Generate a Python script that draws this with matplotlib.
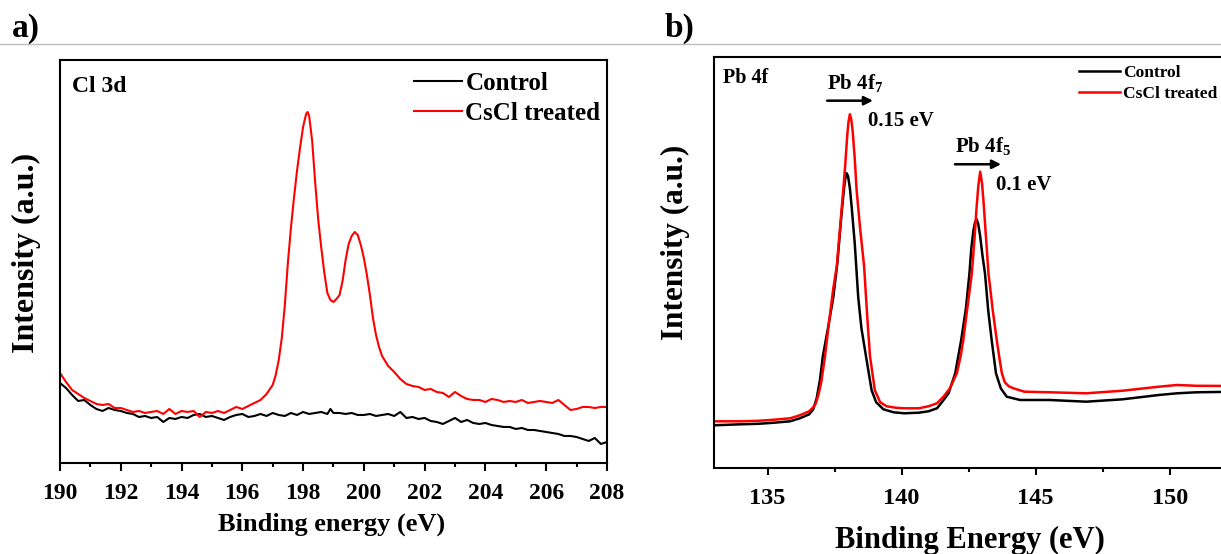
import matplotlib
matplotlib.use("Agg")
import matplotlib.pyplot as plt
from matplotlib.lines import Line2D
from matplotlib.ticker import MultipleLocator, NullLocator

plt.rcParams['font.family'] = ['Liberation Serif', 'DejaVu Serif']
plt.rcParams['font.weight'] = 'bold'
plt.rcParams['mathtext.fontset'] = 'custom'
plt.rcParams['mathtext.rm'] = 'Liberation Serif:bold'
plt.rcParams['mathtext.bf'] = 'Liberation Serif:bold'
plt.rcParams['mathtext.it'] = 'Liberation Serif:bold'

# ---- Cl 3d spectra (a.u.) ----
cl_be = [190.0, 190.2, 190.4, 190.6, 190.8, 191.0, 191.2, 191.4, 191.6, 191.8,
         192.0, 192.2, 192.4, 192.6, 192.8, 193.0, 193.2, 193.4, 193.6, 193.8,
         194.0, 194.2, 194.4, 194.6, 194.8, 195.0, 195.2, 195.4, 195.6, 195.8,
         196.0, 196.2, 196.4, 196.6, 196.8, 197.0, 197.1, 197.2, 197.3, 197.4,
         197.5, 197.6, 197.7, 197.8, 197.9, 198.0, 198.1, 198.15, 198.2, 198.3,
         198.4, 198.5, 198.6, 198.7, 198.8, 198.9, 199.0, 199.1, 199.2, 199.3,
         199.4, 199.5, 199.6, 199.7, 199.8, 199.9, 200.0, 200.1, 200.2, 200.3,
         200.4, 200.5, 200.6, 200.8, 201.0, 201.2, 201.4, 201.6, 201.8, 202.0,
         202.2, 202.4, 202.6, 202.8, 203.0, 203.2, 203.4, 203.6, 203.8, 204.0,
         204.2, 204.4, 204.6, 204.8, 205.0, 205.2, 205.4, 205.6, 205.8, 206.0,
         206.2, 206.4, 206.6, 206.8, 207.0, 207.2, 207.4, 207.6, 207.8, 208.0]
cl_cscl = [90, 81, 73, 69, 65, 62, 59, 58, 59, 55,
           55, 53, 51, 52, 50, 51, 52, 49, 54, 49,
           52, 51, 52, 46, 51, 50, 52, 50, 53, 56,
           54, 57, 60, 63, 69, 78, 88, 103, 125, 158,
           200, 235, 265, 292, 315, 336, 349, 351, 347, 322,
           280, 243, 215, 190, 170, 163, 161, 164, 168, 182,
           203, 219, 227, 231, 228, 218, 205, 188, 168, 145,
           128, 116, 107, 97, 91, 84, 79, 77, 76, 73,
           74, 71, 70, 66, 71, 67, 64, 63, 63, 61,
           64, 63, 61, 62, 61, 63, 60, 61, 62, 61,
           60, 63, 58, 53, 54, 56, 56, 55, 56, 56]

cl_ctrl_be = [190.0, 190.2, 190.4, 190.6, 190.8, 191.0, 191.2, 191.4, 191.6, 191.8,
              192.0, 192.2, 192.4, 192.6, 192.8, 193.0, 193.2, 193.4, 193.6, 193.8,
              194.0, 194.2, 194.4, 194.6, 194.8, 195.0, 195.2, 195.4, 195.6, 195.8,
              196.0, 196.2, 196.4, 196.6, 196.8, 197.0, 197.2, 197.4, 197.6, 197.8,
              198.0, 198.2, 198.4, 198.6, 198.8, 198.9, 199.0, 199.2, 199.4, 199.6,
              199.8, 200.0, 200.2, 200.4, 200.6, 200.8, 201.0, 201.2, 201.4, 201.6,
              201.8, 202.0, 202.2, 202.4, 202.6, 202.8, 203.0, 203.2, 203.4, 203.6,
              203.8, 204.0, 204.2, 204.4, 204.6, 204.8, 205.0, 205.2, 205.4, 205.6,
              205.8, 206.0, 206.2, 206.4, 206.6, 206.8, 207.0, 207.2, 207.4, 207.6,
              207.8, 208.0]
cl_ctrl = [80, 75, 68, 62, 63, 58, 54, 52, 55, 53,
           52, 50, 49, 46, 47, 45, 46, 41, 45, 44,
           46, 45, 48, 49, 46, 47, 45, 43, 46, 48,
           49, 46, 47, 49, 47, 50, 48, 47, 50, 48,
           51, 49, 50, 51, 49, 54, 50, 50, 49, 50,
           48, 48, 49, 47, 48, 49, 47, 51, 45, 46,
           44, 45, 42, 41, 39, 42, 45, 41, 43, 40,
           39, 40, 38, 37, 36, 36, 34, 35, 33, 33,
           32, 31, 30, 29, 27, 27, 26, 24, 22, 25,
           19, 21]

# ---- Pb 4f spectra (a.u.) ----
pb_cscl_be = [133.0, 133.5, 134.0, 134.65, 135.2, 135.84, 136.2, 136.55, 136.7, 136.8,
              136.9, 137.0, 137.14, 137.3, 137.45, 137.58, 137.7, 137.82, 137.9, 137.97,
              138.02, 138.07, 138.12, 138.17, 138.25, 138.32, 138.45, 138.6, 138.72, 138.82,
              139.0, 139.2, 139.44, 139.8, 140.1, 140.64, 141.0, 141.32, 141.56, 141.8,
              142.06, 142.2, 142.3, 142.45, 142.62, 142.72, 142.8, 142.86, 142.93, 143.0,
              143.06, 143.15, 143.24, 143.4, 143.55, 143.65, 143.74, 143.85, 144.0, 144.17,
              144.58, 145.53, 146.89, 148.25, 149.6, 150.28, 151.0, 152.5]
pb_cscl = [47, 47, 47, 47.5, 48.5, 50, 53, 57, 61, 65,
           74, 86, 112, 148, 180, 202, 240, 278, 305, 333,
           347, 354, 349, 338, 310, 278, 240, 202, 150, 112,
           78, 66, 62, 60.5, 60, 60, 62, 65, 71.6, 80,
           95, 112, 128, 160, 195, 230, 262, 282, 296.6, 285,
           265, 230, 195, 158, 128, 110, 95, 86, 82, 80,
           76.6, 76, 75, 77.6, 81.6, 83.3, 82.5, 82.3]

pb_ctrl_be = [133.0, 133.5, 134.0, 134.65, 135.2, 135.84, 136.2, 136.55, 136.7, 136.83,
              136.95, 137.06, 137.25, 137.45, 137.6, 137.76, 137.85, 137.9, 137.95, 138.0,
              138.07, 138.14, 138.25, 138.38, 138.5, 138.67, 138.88, 139.05, 139.32, 139.7,
              140.1, 140.64, 141.0, 141.32, 141.5, 141.75, 142.0, 142.22, 142.4, 142.53,
              142.6, 142.68, 142.74, 142.8, 142.86, 142.93, 143.02, 143.11, 143.23, 143.36,
              143.52, 143.7, 143.92, 144.42, 145.53, 146.89, 148.25, 149.6, 150.28, 151.0,
              152.5]
pb_ctrl = [43, 43.5, 44, 44.5, 45.5, 47, 50, 54, 59, 70,
           88, 112, 140, 171, 205, 255, 280, 290, 295, 292,
           280, 260, 225, 171, 140, 112, 78, 66, 59, 56,
           55, 55.6, 57, 60, 66, 75, 95, 128, 160, 195,
           220, 238, 246, 249, 244, 232, 212, 195, 158, 128,
           95, 80, 71.6, 68.3, 68.3, 66.6, 69, 73.3, 75, 76,
           76.6]

fig = plt.figure(figsize=(12.21, 5.54), dpi=100)

# panel a: Cl 3d
ax1 = fig.add_axes([0.0491, 0.1643, 0.4480, 0.7274])
ax1.plot(cl_ctrl_be, cl_ctrl, color='black', lw=1.5, label='Control')
ax1.plot(cl_be, cl_cscl, color='#ff0000', lw=1.5, label='CsCl treated')
ax1.set_xlim(190, 208)
ax1.set_ylim(0, 403)
ax1.xaxis.set_major_locator(MultipleLocator(2))
ax1.xaxis.set_minor_locator(MultipleLocator(1))
ax1.yaxis.set_major_locator(NullLocator())
ax1.tick_params(axis='x', which='major', direction='out', length=5.8, width=1.5,
                labelsize=17, pad=8.5)
ax1.tick_params(axis='x', which='minor', direction='out', length=3.2, width=1.5)
ax1.set_xlabel('Binding energy (eV)', fontsize=19, fontweight='bold', va='center')
ax1.xaxis.set_label_coords(0.497, -0.152)
ax1.set_ylabel('Intensity (a.u.)', fontsize=23, fontweight='bold', va='center')
ax1.yaxis.set_label_coords(-0.062, 0.52)
ax1.text(190.39, 376, 'Cl 3d', fontsize=17, fontweight='bold', va='center', ha='left')
ax1.legend(loc='upper left', bbox_to_anchor=(414 / 1221, 1 - 72 / 554),
           bbox_transform=fig.transFigure, frameon=False, fontsize=18,
           handlelength=1.92, handletextpad=0.14, labelspacing=0.28,
           borderpad=0, borderaxespad=0)

# panel b: Pb 4f
ax2 = fig.add_axes([0.5848, 0.1547, 0.4280, 0.7430])
ax2.plot(pb_ctrl_be, pb_ctrl, color='black', lw=1.8, label='Control')
ax2.plot(pb_cscl_be, pb_cscl, color='#ff0000', lw=1.8, label='CsCl treated')
ax2.set_xlim(133, 152.5)
ax2.set_ylim(0, 411.6)
ax2.xaxis.set_major_locator(MultipleLocator(5))
ax2.xaxis.set_minor_locator(MultipleLocator(2.5))
ax2.yaxis.set_major_locator(NullLocator())
ax2.tick_params(axis='x', which='major', direction='out', length=5, width=1.5,
                labelsize=17.5, pad=9)
ax2.tick_params(axis='x', which='minor', direction='out', length=3, width=1.5)
ax2.set_xlabel('Binding Energy (eV)', fontsize=22, fontweight='bold', va='center')
ax2.xaxis.set_label_coords(0.49, -0.175)
ax2.set_ylabel('Intensity (a.u.)', fontsize=22.5, fontweight='bold', va='center')
ax2.yaxis.set_label_coords(-0.0746, 0.55)
ax2.text(133.33, 390.3, 'Pb 4f', fontsize=14.5, fontweight='bold', va='center', ha='left')
ax2.text(137.22, 385, r'Pb 4f$_{7}$', fontsize=15, fontweight='bold', va='center', ha='left')
ax2.text(138.74, 347.6, '0.15 eV', fontsize=15, fontweight='bold', va='center', ha='left')
ax2.text(141.99, 321.8, r'Pb 4f$_{5}$', fontsize=15, fontweight='bold', va='center', ha='left')
ax2.text(143.52, 283.3, '0.1 eV', fontsize=15, fontweight='bold', va='center', ha='left')
arrow = dict(arrowstyle='-|>', lw=1.8, color='black', mutation_scale=13, shrinkA=0, shrinkB=0)
ax2.annotate('', xy=(138.93, 367.6), xytext=(137.22, 367.6), arrowprops=arrow)
ax2.annotate('', xy=(143.71, 304), xytext=(141.99, 304), arrowprops=arrow)
ax2.legend(loc='upper left', bbox_to_anchor=(1079 / 1221, 1 - 65 / 554),
           bbox_transform=fig.transFigure, frameon=False, fontsize=12.5,
           handlelength=2.36, handletextpad=0.17, labelspacing=0.26,
           borderpad=0, borderaxespad=0)

for ax in (ax1, ax2):
    for sp in ax.spines.values():
        sp.set_linewidth(1.5)

# panel labels and the thin rule under them
fig.add_artist(Line2D([0, 1], [0.9197, 0.9197], transform=fig.transFigure,
                      color='#bdbdbd', lw=1))
fig.text(12 / 1221, 1 - 28 / 554, 'a)', fontsize=24, fontweight='bold', va='center', ha='left')
fig.text(665 / 1221, 1 - 28 / 554, 'b)', fontsize=24, fontweight='bold', va='center', ha='left')

fig.savefig('out.png', dpi=100)
